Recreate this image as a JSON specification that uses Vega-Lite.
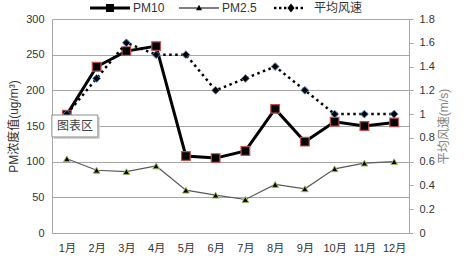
{
  "$schema": "https://vega.github.io/schema/vega-lite/v6.json",
  "width": 357,
  "height": 214,
  "autosize": "none",
  "padding": {"left": 52, "top": 19, "right": 63, "bottom": 25},
  "background": "white",
  "config": {
    "font": "Liberation Sans, Noto Sans CJK SC",
    "view": {"stroke": null},
    "axis": {
      "labelFont": "Liberation Sans, Noto Sans CJK SC",
      "titleFont": "Liberation Sans, Noto Sans CJK SC",
      "labelFontSize": 11,
      "labelColor": "#333333",
      "titleFontSize": 12,
      "titleFontWeight": "normal",
      "domainColor": "#a6a6a6",
      "tickColor": "#a6a6a6",
      "gridColor": "#a6a6a6"
    }
  },
  "datasets": {
    "pm": [
      {"month": "1月", "series": "PM10", "value": 166},
      {"month": "2月", "series": "PM10", "value": 233},
      {"month": "3月", "series": "PM10", "value": 255},
      {"month": "4月", "series": "PM10", "value": 262},
      {"month": "5月", "series": "PM10", "value": 108},
      {"month": "6月", "series": "PM10", "value": 105},
      {"month": "7月", "series": "PM10", "value": 115},
      {"month": "8月", "series": "PM10", "value": 174},
      {"month": "9月", "series": "PM10", "value": 128},
      {"month": "10月", "series": "PM10", "value": 156},
      {"month": "11月", "series": "PM10", "value": 150},
      {"month": "12月", "series": "PM10", "value": 155},
      {"month": "1月", "series": "PM2.5", "value": 104},
      {"month": "2月", "series": "PM2.5", "value": 88},
      {"month": "3月", "series": "PM2.5", "value": 86},
      {"month": "4月", "series": "PM2.5", "value": 94},
      {"month": "5月", "series": "PM2.5", "value": 60},
      {"month": "6月", "series": "PM2.5", "value": 53},
      {"month": "7月", "series": "PM2.5", "value": 47},
      {"month": "8月", "series": "PM2.5", "value": 68},
      {"month": "9月", "series": "PM2.5", "value": 62},
      {"month": "10月", "series": "PM2.5", "value": 90},
      {"month": "11月", "series": "PM2.5", "value": 98},
      {"month": "12月", "series": "PM2.5", "value": 100}
    ],
    "wind": [
      {"month": "1月", "series": "平均风速", "value": 1.0},
      {"month": "2月", "series": "平均风速", "value": 1.3},
      {"month": "3月", "series": "平均风速", "value": 1.6},
      {"month": "4月", "series": "平均风速", "value": 1.5},
      {"month": "5月", "series": "平均风速", "value": 1.5},
      {"month": "6月", "series": "平均风速", "value": 1.2},
      {"month": "7月", "series": "平均风速", "value": 1.3},
      {"month": "8月", "series": "平均风速", "value": 1.4},
      {"month": "9月", "series": "平均风速", "value": 1.2},
      {"month": "10月", "series": "平均风速", "value": 1.0},
      {"month": "11月", "series": "平均风速", "value": 1.0},
      {"month": "12月", "series": "平均风速", "value": 1.0}
    ],
    "note": [{"month": "1月", "value": 150, "label": "图表区"}]
  },
  "encoding": {
    "x": {
      "field": "month",
      "type": "nominal",
      "scale": {"type": "point", "padding": 0.5, "domain": ["1月","2月","3月","4月","5月","6月","7月","8月","9月","10月","11月","12月"]},
      "axis": {"title": null, "ticks": false, "labelAngle": 0, "labelPadding": 9, "grid": false}
    }
  },
  "layer": [
    {
      "data": {"name": "pm"},
      "encoding": {
        "y": {
          "field": "value",
          "type": "quantitative",
          "scale": {"domain": [0, 300], "nice": false},
          "axis": {
            "title": "PM浓度值(ug/m³)",
            "titleColor": "#333333",
            "values": [0, 50, 100, 150, 200, 250, 300],
            "ticks": false,
            "labelPadding": 8,
            "titlePadding": 5,
            "grid": true
          }
        }
      },
      "layer": [
        {
          "transform": [{"filter": "datum.series === 'PM2.5'"}],
          "mark": {"type": "line", "strokeWidth": 1.2},
          "encoding": {
            "color": {
              "field": "series", "type": "nominal",
              "scale": {"domain": ["PM10", "PM2.5", "平均风速"], "range": ["#000000", "#595959", "#000000"]},
              "legend": {
                "title": null, "orient": "none", "direction": "horizontal",
                "legendX": 38, "legendY": -31,
                "symbolSize": 1600, "labelOffset": 3, "columnPadding": 14,
                "labelFontSize": 12, "labelColor": "#333333",
                "labelFont": "Liberation Sans, Noto Sans CJK SC",
                "encode": {"symbols": {"update": {
                  "shape": {"signal": "datum.value === 'PM10' ? 'M-1,-0.07H1V0.07H-1Z M-0.2,-0.2H0.2V0.2H-0.2Z' : datum.value === 'PM2.5' ? 'M-1,-0.025H1V0.025H-1Z M0,-0.16L0.15,0.11L-0.15,0.11Z' : 'M-0.85,-0.06H-0.73V0.06H-0.85Z M-0.6,-0.06H-0.48V0.06H-0.6Z M-0.35,-0.06H-0.23V0.06H-0.35Z M0.23,-0.06H0.35V0.06H0.23Z M0.48,-0.06H0.6V0.06H0.48Z M0,-0.22L0.18,0L0,0.22L-0.18,0Z'"},
                  "fill": {"value": "#000000"},
                  "fillOpacity": {"value": 1},
                  "stroke": {"value": "transparent"},
                  "strokeWidth": {"value": 0},
                  "size": {"value": 1600},
                  "opacity": {"value": 1}
                }}}
              }
            }
          }
        },
        {
          "transform": [{"filter": "datum.series === 'PM10'"}],
          "mark": {"type": "line", "strokeWidth": 3},
          "encoding": {
            "color": {
              "field": "series", "type": "nominal",
              "scale": {"domain": ["PM10", "PM2.5", "平均风速"], "range": ["#000000", "#595959", "#000000"]}
            }
          }
        },
        {
          "transform": [{"filter": "datum.series === 'PM2.5'"}],
          "mark": {"type": "point", "shape": "triangle-up", "filled": true, "fill": "#000000", "stroke": "#9bbb59", "strokeWidth": 1, "size": 45, "opacity": 1}
        },
        {
          "transform": [{"filter": "datum.series === 'PM10'"}],
          "mark": {"type": "point", "shape": "square", "filled": true, "fill": "#000000", "stroke": "#c0504d", "strokeWidth": 1.2, "size": 75, "opacity": 1}
        }
      ]
    },
    {
      "data": {"name": "wind"},
      "encoding": {
        "y": {
          "field": "value",
          "type": "quantitative",
          "scale": {"domain": [0, 1.8], "nice": false},
          "axis": {
            "orient": "right",
            "title": "平均风速(m/s)",
            "titleColor": "#808080",
            "titleAngle": 270,
            "values": [0, 0.2, 0.4, 0.6, 0.8, 1, 1.2, 1.4, 1.6, 1.8],
            "format": "~g",
            "ticks": true,
            "tickSize": 4,
            "labelPadding": 6,
            "titlePadding": 16,
            "grid": false
          }
        }
      },
      "layer": [
        {
          "mark": {"type": "line", "strokeWidth": 2.5, "strokeDash": [2.5, 3.5]},
          "encoding": {
            "color": {
              "field": "series", "type": "nominal",
              "scale": {"domain": ["PM10", "PM2.5", "平均风速"], "range": ["#000000", "#595959", "#000000"]}
            }
          }
        },
        {
          "mark": {"type": "point", "shape": "diamond", "filled": true, "fill": "#000000", "stroke": "#4f81bd", "strokeWidth": 1, "size": 60, "opacity": 1}
        }
      ]
    },
    {
      "data": {"name": "note"},
      "encoding": {
        "y": {"field": "value", "type": "quantitative", "scale": {"domain": [0, 300], "nice": false}, "axis": null}
      },
      "layer": [
        {
          "mark": {"type": "point", "shape": "M-1,-0.478H1V0.478H-1Z", "size": 2116, "filled": true, "fill": "#c8c8c8", "strokeWidth": 0, "opacity": 0.8, "xOffset": 10, "yOffset": 2}
        },
        {
          "mark": {"type": "point", "shape": "M-1,-0.478H1V0.478H-1Z", "size": 2116, "filled": true, "fill": "#ffffff", "stroke": "#8c8c8c", "strokeWidth": 1, "opacity": 1, "xOffset": 8}
        },
        {
          "mark": {"type": "text", "fontSize": 12, "color": "#404040", "dx": 8, "font": "Noto Sans CJK SC"},
          "encoding": {"text": {"field": "label"}}
        }
      ]
    }
  ],
  "resolve": {"scale": {"y": "independent"}}
}
